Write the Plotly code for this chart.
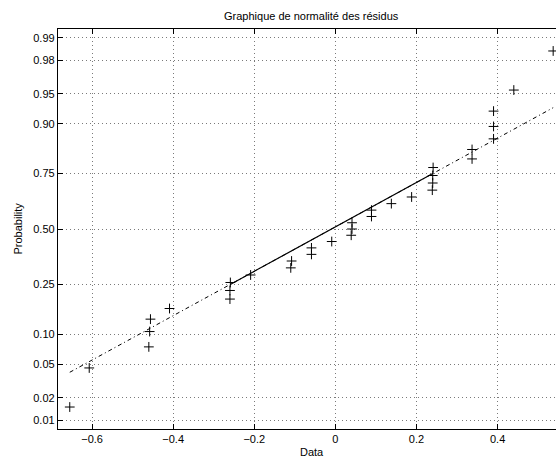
import numpy as np
import plotly.graph_objects as go
from statistics import NormalDist

# Residuals (sorted)
residuals = [-0.655, -0.607, -0.46, -0.458, -0.456, -0.409, -0.26, -0.26, -0.259,
             -0.209, -0.11, -0.108, -0.059, -0.059, -0.009, 0.039, 0.041, 0.041,
             0.089, 0.089, 0.138, 0.188, 0.239, 0.24, 0.24, 0.241, 0.337, 0.337,
             0.39, 0.39, 0.39, 0.44, 0.537]
prob_ticks = [0.01, 0.02, 0.05, 0.10, 0.25, 0.50, 0.75, 0.90, 0.95, 0.98, 0.99]
prob_labels = ["0.01", "0.02", "0.05", "0.10", "0.25", "0.50", "0.75", "0.90", "0.95", "0.98", "0.99"]
x_ticks = [-0.6, -0.4, -0.2, 0, 0.2, 0.4]
x_labels = ["\u22120.6", "\u22120.4", "\u22120.2", "0", "0.2", "0.4"]

nd = NormalDist()
x = np.sort(np.array(residuals))
n = len(x)
# normal probability plot positions (MATLAB normplot convention)
pp = (np.arange(1, n + 1) - 0.5) / n
z = np.array([nd.inv_cdf(p) for p in pp])

# quartile reference line
def prctile(v, p):
    pos = p * n + 0.5
    return float(np.interp(pos, np.arange(1, n + 1), v))

q1, q3 = prctile(x, 0.25), prctile(x, 0.75)
z1, z3 = nd.inv_cdf(0.25), nd.inv_cdf(0.75)
slope = (z3 - z1) / (q3 - q1)
def line_z(xv):
    return z1 + slope * (xv - q1)

xmin, xmax = float(x[0]), float(x[-1])

fig = go.Figure()
fig.add_trace(go.Scatter(x=[xmin, xmax], y=[line_z(xmin), line_z(xmax)], mode="lines",
                         line=dict(color="black", width=1, dash="4px,3px,1px,3px"),
                         hoverinfo="skip", showlegend=False))
fig.add_trace(go.Scatter(x=[q1, q3], y=[z1, z3], mode="lines",
                         line=dict(color="black", width=1.2),
                         hoverinfo="skip", showlegend=False))
fig.add_trace(go.Scatter(x=x, y=z, mode="markers",
                         marker=dict(symbol="cross-thin", size=7,
                                     line=dict(color="black", width=1)),
                         showlegend=False))

font = dict(family="Liberation Sans, Arial, Helvetica, sans-serif", size=11, color="black")
grid = dict(showgrid=True, gridcolor="#7a7a7a", griddash="1px,3px", gridwidth=1)
fig.update_layout(
    width=556, height=462, autosize=False,
    margin=dict(l=58, r=0, t=29, b=33),
    paper_bgcolor="white", plot_bgcolor="white",
    font=font,
    xaxis=dict(range=[-0.684, 0.544], tickvals=x_ticks, ticktext=x_labels,
               showline=True, linecolor="black", linewidth=1.3, mirror="allticks",
               ticks="inside", ticklen=5, tickcolor="black",
               zeroline=False, tickfont=font, **grid),
    yaxis=dict(range=[-nd.inv_cdf(0.99) * 1.046, nd.inv_cdf(0.99) * 1.046],
               tickvals=[nd.inv_cdf(p) for p in prob_ticks], ticktext=prob_labels,
               showline=True, linecolor="black", linewidth=1.3, mirror=False,
               ticks="inside", ticklen=5, tickcolor="black",
               zeroline=False, tickfont=font, **grid),
    annotations=[
        dict(text="Graphique de normalité des résidus", x=0.51, y=1.0325,
             xref="paper", yref="paper", xanchor="center", yanchor="middle",
             showarrow=False, font=font),
        dict(text="Data", x=0.51, y=-0.0585, xref="paper", yref="paper",
             xanchor="center", yanchor="middle", showarrow=False, font=font),
        dict(text="Probability", x=-0.0813, y=0.5, xref="paper", yref="paper",
             xanchor="center", yanchor="middle", textangle=-90, showarrow=False, font=font),
    ],
)

fig.write_html("out.html")
